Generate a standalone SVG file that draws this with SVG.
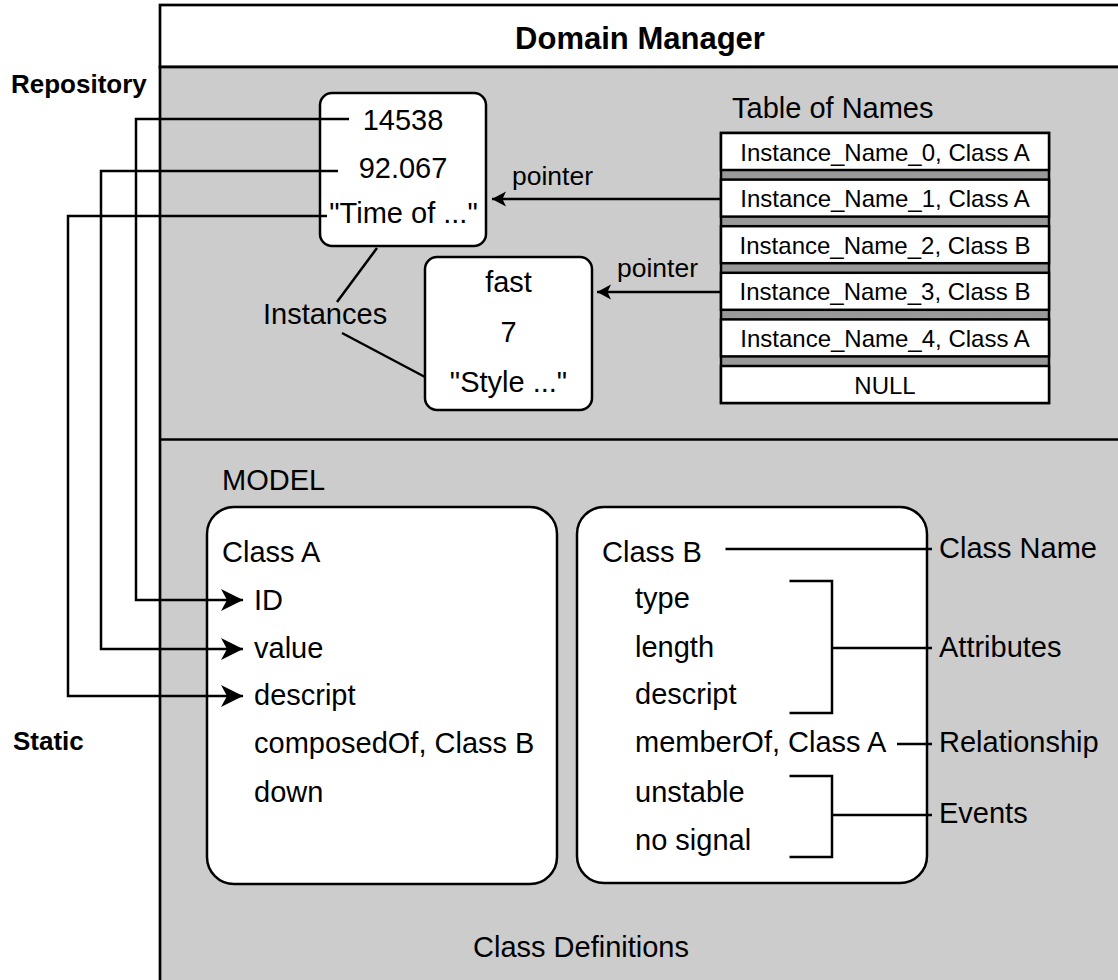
<svg xmlns="http://www.w3.org/2000/svg" width="1118" height="980" viewBox="0 0 1118 980">
<style>
.t{font-family:"Liberation Sans",Arial,Helvetica,sans-serif;font-size:29px;fill:#000}
.s{font-size:24px}
.p{font-size:26.5px}
.b{font-weight:bold}
.m{text-anchor:middle}
.ln{stroke:#000;stroke-width:2.5;fill:none}
.box{fill:#fff;stroke:#000;stroke-width:2.5}
.row{fill:#fff;stroke:#000;stroke-width:2.5}
</style>
<defs>
<marker id="big" markerUnits="userSpaceOnUse" markerWidth="24" markerHeight="24" refX="22" refY="11" orient="auto" overflow="visible">
<path d="M0,0 L22,11 L0,22 L6,11 z" fill="#000"/>
</marker>
<marker id="small" markerUnits="userSpaceOnUse" markerWidth="16" markerHeight="16" refX="14" refY="7.5" orient="auto" overflow="visible">
<path d="M0,0 L14,7.5 L0,15 L3.5,7.5 z" fill="#000"/>
</marker>
</defs>

<g id="frame">
<rect x="160" y="5" width="970" height="62" fill="#fff" stroke="#000" stroke-width="2.7"/>
<rect x="160" y="67" width="970" height="920" fill="#ccc" stroke="#000" stroke-width="2.7"/>
<line x1="160" y1="439.5" x2="1130" y2="439.5" stroke="#000" stroke-width="2.7"/>
<text class="t b m" x="640" y="49" style="font-size:31px">Domain Manager</text>
<text class="t m" x="581" y="957">Class Definitions</text>
</g>

<g id="repository-label"><text class="t b" x="11" y="93" style="font-size:26px">Repository</text></g>
<g id="static-label"><text class="t b" x="13" y="750" style="font-size:26px">Static</text></g>

<g id="instance1">
<rect class="box" x="320" y="93" width="166" height="153" rx="12"/>
<text class="t m" x="403" y="130">14538</text>
<text class="t m" x="403" y="178">92.067</text>
<text class="t m" x="403.5" y="223">"Time of ..."</text>
</g>

<g id="instance2">
<rect class="box" x="425" y="257" width="167" height="153" rx="12"/>
<text class="t m" x="508.5" y="292">fast</text>
<text class="t m" x="508.5" y="342">7</text>
<text class="t m" x="508.5" y="392">"Style ..."</text>
</g>

<g id="instances-label"><text class="t" x="263" y="324">Instances</text></g>

<g id="table">
<text class="t" x="732" y="118">Table of Names</text>
<rect x="721" y="133" width="328" height="270" fill="#999" stroke="#000" stroke-width="2.5"/>
<rect class="row" x="721" y="133" width="328" height="37"/>
<text class="t s m" x="885" y="160.5">Instance_Name_0, Class A</text>
<rect class="row" x="721" y="179.6" width="328" height="37"/>
<text class="t s m" x="885" y="207.1">Instance_Name_1, Class A</text>
<rect class="row" x="721" y="226.2" width="328" height="37"/>
<text class="t s m" x="885" y="253.7">Instance_Name_2, Class B</text>
<rect class="row" x="721" y="272.8" width="328" height="37"/>
<text class="t s m" x="885" y="300.3">Instance_Name_3, Class B</text>
<rect class="row" x="721" y="319.4" width="328" height="37"/>
<text class="t s m" x="885" y="346.9">Instance_Name_4, Class A</text>
<rect class="row" x="721" y="366" width="328" height="37"/>
<text class="t s m" x="885" y="393.5">NULL</text>
</g>

<g id="model-label"><text class="t" x="222" y="490">MODEL</text></g>

<g id="classA">
<rect class="box" x="207" y="507" width="350" height="377" rx="27"/>
<text class="t" x="222" y="562">Class A</text>
<text class="t" x="254" y="610">ID</text>
<text class="t" x="254" y="658">value</text>
<text class="t" x="254" y="705">descript</text>
<text class="t" x="254" y="753">composedOf, Class B</text>
<text class="t" x="254" y="802">down</text>
</g>

<g id="classB">
<rect class="box" x="577" y="507" width="350" height="376" rx="27"/>
<text class="t" x="602" y="562">Class B</text>
<text class="t" x="635" y="608">type</text>
<text class="t" x="635" y="657">length</text>
<text class="t" x="635" y="704">descript</text>
<text class="t" x="635" y="752">memberOf, Class A</text>
<text class="t" x="635" y="802">unstable</text>
<text class="t" x="635" y="850">no signal</text>
</g>

<g id="annotations">
<text class="t" x="939" y="558">Class Name</text>
<text class="t" x="939" y="657">Attributes</text>
<text class="t" x="939" y="752">Relationship</text>
<text class="t" x="939" y="823">Events</text>
</g>

<g id="connectors">
<path class="ln" d="M349,119 H136 V600 H243" marker-end="url(#big)"/>
<path class="ln" d="M338,171 H101 V649 H243" marker-end="url(#big)"/>
<path class="ln" d="M327,216 H68 V696 H243" marker-end="url(#big)"/>
<path class="ln" d="M721,199 H492" marker-end="url(#small)"/>
<text class="t p" x="512" y="185">pointer</text>
<path class="ln" d="M721,292 H597" marker-end="url(#small)"/>
<text class="t p" x="617" y="277">pointer</text>
<line class="ln" x1="377" y1="248" x2="337" y2="302"/>
<line class="ln" x1="342" y1="333" x2="425" y2="377"/>
<line class="ln" x1="725.5" y1="549" x2="932" y2="549"/>
<path class="ln" d="M789.5,581 H832 V713 H789.5 M832,648 H932"/>
<line class="ln" x1="897" y1="744" x2="932" y2="744"/>
<path class="ln" d="M789.5,776 H832 V857 H789.5 M832,815 H932"/>
</g>
</svg>
